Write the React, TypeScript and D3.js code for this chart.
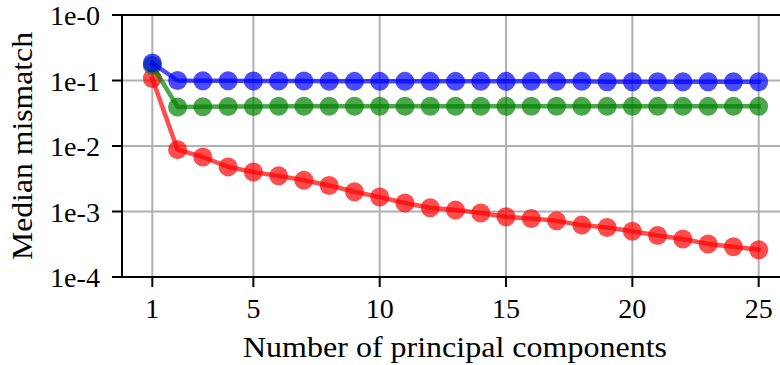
import React from "react";
import * as d3 from "d3";

const components = d3.range(1, 26);
const blueValues = [0.185, 0.1, 0.099, 0.099, 0.098, 0.098, 0.098, 0.097, 0.097, 0.097, 0.097, 0.097, 0.097, 0.097, 0.097, 0.097, 0.097, 0.097, 0.096, 0.096, 0.096, 0.096, 0.096, 0.096, 0.096];
const greenValues = [0.17, 0.0395, 0.0398, 0.04, 0.0402, 0.0404, 0.0404, 0.0405, 0.0405, 0.0405, 0.0404, 0.0404, 0.0404, 0.0404, 0.0404, 0.0404, 0.0404, 0.0403, 0.0403, 0.0403, 0.0403, 0.0403, 0.0403, 0.0403, 0.0403];
const redValues = [0.107, 0.0088, 0.0068, 0.0048, 0.004, 0.0035, 0.003, 0.0025, 0.002, 0.00166, 0.00135, 0.00114, 0.00105, 0.00095, 0.00083, 0.00078, 0.00072, 0.00062, 0.00057, 0.0005, 0.00043, 0.00038, 0.00032, 0.00029, 0.00026];
const xTicks = [1, 5, 10, 15, 20, 25];
const yTicks = [1, 1e-1, 1e-2, 1e-3, 1e-4];
const yTickLabels = ["1e-0", "1e-1", "1e-2", "1e-3", "1e-4"];
const seriesList = [
  { name: "red", color: "#ff0000", values: redValues },
  { name: "green", color: "#008000", values: greenValues },
  { name: "blue", color: "#0000ff", values: blueValues },
];

export default function App() {
  const W = 780, H = 365;
  const left = 122, right = 789, top = 15, bottom = 277;
  const x = d3.scaleLinear().domain([-0.2, 26.2]).range([left, right]);
  const y = d3.scaleLog().domain([1e-4, 1]).range([bottom, top]);
  const line = d3.line<number>().x((_, i) => x(components[i])).y((d) => y(d));
  const font = "'Liberation Serif', 'Times New Roman', serif";
  const grid = "#b0b0b0";
  return (
    <svg width={W} height={H} style={{ position: "absolute", left: 0, top: 0, background: "#fff" }} fontFamily={font}>
      <rect x={0} y={0} width={W} height={H} fill="#fff" />
      {xTicks.map((t) => (
        <line key={"gx" + t} x1={x(t)} x2={x(t)} y1={top} y2={bottom} stroke={grid} strokeWidth={2} />
      ))}
      {yTicks.map((t) => (
        <line key={"gy" + t} x1={left} x2={right} y1={y(t)} y2={y(t)} stroke={grid} strokeWidth={2} />
      ))}
      {seriesList.map((s) => (
        <g key={s.name} opacity={1}>
          <path d={line(s.values) || ""} fill="none" stroke={s.color} strokeWidth={4.5} strokeOpacity={0.7} strokeLinejoin="round" strokeLinecap="square" />
          {s.values.map((v, i) => (
            <circle key={i} cx={x(components[i])} cy={y(v)} r={9.5} fill={s.color} fillOpacity={0.7} />
          ))}
        </g>
      ))}
      <line x1={left} x2={left} y1={top - 1} y2={bottom + 1} stroke="#000" strokeWidth={2} />
      <line x1={left - 1} x2={right} y1={top} y2={top} stroke="#000" strokeWidth={2} />
      <line x1={left - 1} x2={right} y1={bottom} y2={bottom} stroke="#000" strokeWidth={2} />
      <line x1={right} x2={right} y1={top} y2={bottom} stroke="#000" strokeWidth={2} />
      {xTicks.map((t) => (
        <g key={"tx" + t}>
          <line x1={x(t)} x2={x(t)} y1={bottom} y2={bottom + 10} stroke="#000" strokeWidth={2} />
          <text x={x(t)} y={318} textAnchor="middle" fontSize={28} fill="#000">{t}</text>
        </g>
      ))}
      {yTicks.map((t, i) => (
        <g key={"ty" + t}>
          <line x1={left - 10} x2={left} y1={y(t)} y2={y(t)} stroke="#000" strokeWidth={2} />
          <text x={100} y={y(t) + 10} textAnchor="end" fontSize={28} fill="#000" textLength={50} lengthAdjust="spacingAndGlyphs">{yTickLabels[i]}</text>
        </g>
      ))}
      <text x={455} y={357} textAnchor="middle" fontSize={29} fill="#000" textLength={424} lengthAdjust="spacingAndGlyphs">Number of principal components</text>
      <text transform={`translate(32,146) rotate(-90)`} textAnchor="middle" fontSize={29} fill="#000" textLength={228} lengthAdjust="spacingAndGlyphs">Median mismatch</text>
    </svg>
  );
}
